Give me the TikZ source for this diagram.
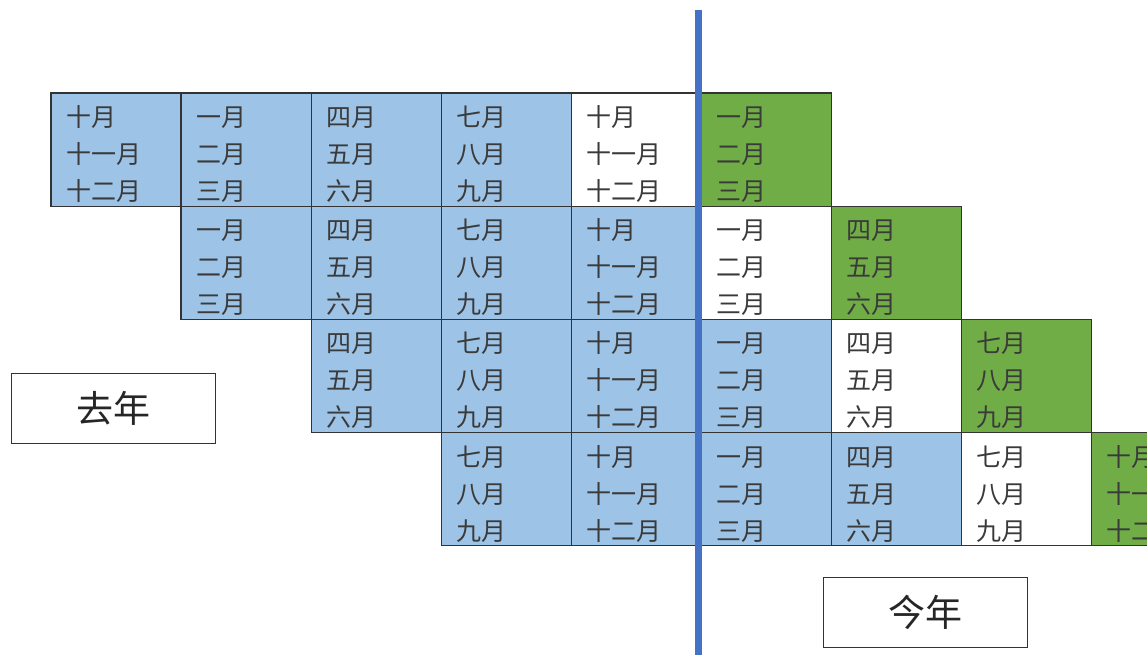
\documentclass[tikz,border=0pt]{standalone}
\usepackage{fontspec}
\setmainfont{Noto Sans CJK SC}
\usetikzlibrary{positioning}

\definecolor{cellblue}{HTML}{9DC3E6}
\definecolor{cellgreen}{HTML}{70AD47}
\definecolor{lineblue}{HTML}{4472C4}
\definecolor{textgray}{HTML}{3A3A3A}

\newcommand{\grpOct}{十月\\十一月\\十二月}
\newcommand{\grpJan}{一月\\二月\\三月}
\newcommand{\grpApr}{四月\\五月\\六月}
\newcommand{\grpJul}{七月\\八月\\九月}

\begin{document}
\begin{tikzpicture}
[x=1pt, y=-1pt, node distance=0pt,
cell/.style={draw=black!80, line width=1.3pt, outer sep=0pt, inner xsep=15pt, inner ysep=0pt,
  text width=100.1pt, align=left, minimum height=113.2pt, text=textgray,
  font=\fontsize{25}{37}\selectfont, execute at begin node={\rule{0pt}{30pt}}},
bluecell/.style={cell, fill=cellblue},
whitecell/.style={cell, fill=white},
greencell/.style={cell, fill=cellgreen},
yearbox/.style={draw=black!80, line width=1.3pt, minimum width=204pt, minimum height=70pt,
  font=\fontsize{37}{40}\selectfont, text=black!85}
]
  \useasboundingbox (0,0) rectangle (1147,655);
  \clip (0,0) rectangle (1147,655);

  % first row
  \node[bluecell, anchor=north west] (a0) at (51,93) {\grpOct};
  \node[bluecell]  (a1) [right=of a0] {\grpJan};
  \node[bluecell]  (a2) [right=of a1] {\grpApr};
  \node[bluecell]  (a3) [right=of a2] {\grpJul};
  \node[whitecell] (a4) [right=of a3] {\grpOct};
  \node[greencell] (a5) [right=of a4] {\grpJan};

  % second row
  \node[bluecell]  (b1) [below=of a1] {\grpJan};
  \node[bluecell]  (b2) [right=of b1] {\grpApr};
  \node[bluecell]  (b3) [right=of b2] {\grpJul};
  \node[bluecell]  (b4) [right=of b3] {\grpOct};
  \node[whitecell] (b5) [right=of b4] {\grpJan};
  \node[greencell] (b6) [right=of b5] {\grpApr};

  % third row
  \node[bluecell]  (c2) [below=of b2] {\grpApr};
  \node[bluecell]  (c3) [right=of c2] {\grpJul};
  \node[bluecell]  (c4) [right=of c3] {\grpOct};
  \node[bluecell]  (c5) [right=of c4] {\grpJan};
  \node[whitecell] (c6) [right=of c5] {\grpApr};
  \node[greencell] (c7) [right=of c6] {\grpJul};

  % fourth row
  \node[bluecell]  (d3) [below=of c3] {\grpJul};
  \node[bluecell]  (d4) [right=of d3] {\grpOct};
  \node[bluecell]  (d5) [right=of d4] {\grpJan};
  \node[bluecell]  (d6) [right=of d5] {\grpApr};
  \node[whitecell] (d7) [right=of d6] {\grpJul};
  \node[greencell] (d8) [right=of d7] {\grpOct};

  % year boundary
  \coordinate (top) at (698.5,10);
  \coordinate (bottom) at (698.5,660);
  \draw[lineblue, line width=7pt] (top) -- (bottom);

  \node[yearbox] (lastyear) at (113.5,408.5) {去年};
  \node[yearbox] (thisyear) at (925.5,612.5) {今年};
\end{tikzpicture}
\end{document}
